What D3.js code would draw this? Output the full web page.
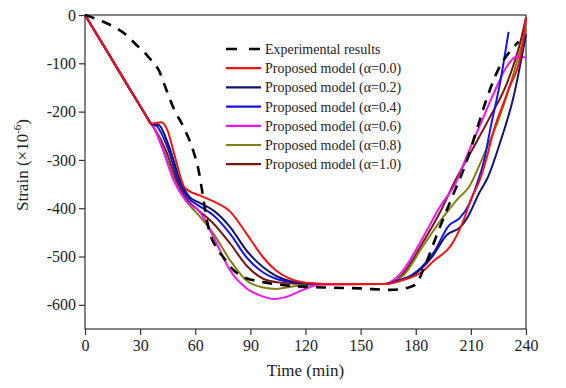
<!DOCTYPE html>
<html>
<head>
<meta charset="utf-8">
<script src="https://cdn.jsdelivr.net/npm/d3@7"></script>
<style>
  html, body { margin: 0; padding: 0; background: #fff; }
  svg { display: block; font-family: "Liberation Serif", "Times New Roman", serif; }
</style>
</head>
<body>
<div id="chart"></div>
<script>
"use strict";

// Time (min), strain (x10^-6) pairs
const experimental = [[0,0],[4,-5],[10,-14],[15,-23],[22,-40],[28,-62],[32,-76],[35,-89],[38,-102],[40,-113],[44,-152],[48,-191],[54,-235],[59,-282],[62,-325],[64,-370],[66,-418],[68,-452],[71,-478],[76,-505],[80,-525],[86,-542],[97,-553],[110,-560],[130,-564],[150,-566],[166,-569],[175,-565],[180,-558],[184,-528],[192,-450],[200,-375],[207,-310],[213,-240],[218,-180],[225,-112],[232,-72],[236,-55]];

const alpha00 = [[0,0],[12,-75],[24,-151],[33,-207],[36,-225],[41.5,-222],[45,-240],[48,-280],[54,-356],[57,-365],[62,-373],[70,-386],[79,-407],[88,-453],[97,-502],[104,-529],[113,-548],[122,-555],[130,-557],[163,-557],[170,-552],[176,-545],[183,-533],[190,-508],[199,-478],[206,-425],[210,-382],[215,-340],[219,-290],[222,-245],[230,-159],[238,-65],[240,-5]];
const alpha02 = [[0,0],[12,-75],[24,-151],[33,-207],[36,-225],[40,-227],[46,-275],[52,-345],[57,-377],[62,-388],[70,-405],[79,-439],[88,-488],[97,-522],[104,-540],[113,-552],[122,-556],[130,-557],[163,-557],[170,-551],[178,-540],[189,-500],[197,-455],[204,-440],[208,-420],[215,-365],[219,-338],[226,-263],[233,-173],[240,-40]];
const alpha04 = [[0,0],[12,-75],[24,-151],[33,-207],[36,-225],[39,-230],[45,-275],[51,-345],[56,-378],[62,-395],[70,-415],[79,-453],[88,-502],[97,-533],[104,-546],[113,-553],[130,-557],[163,-557],[170,-550],[178,-538],[190,-490],[198,-436],[204,-420],[209,-392],[213,-353],[217,-304],[221,-228],[226,-138],[230.5,-35]];
const alpha06 = [[0,0],[12,-75],[24,-151],[33,-207],[36,-225],[37.5,-234],[42,-275],[48,-340],[55,-385],[62.6,-408],[70,-460],[79,-529],[88,-566],[97,-583],[103,-588],[110,-583],[118,-570],[128,-558],[163,-557],[171.5,-536],[184,-460],[193,-398],[202,-346],[208,-290],[215,-228],[222,-166],[230,-104],[235,-86],[240,-88]];
const alpha08 = [[0,0],[12,-75],[24,-151],[33,-207],[36,-225],[37.5,-233],[43,-280],[49,-345],[55,-385],[62,-415],[70,-453],[79,-508],[88,-550],[97,-564],[104,-567],[113,-562],[125,-558],[163,-557],[173,-540],[184,-478],[195,-418],[203,-380],[209,-356],[217,-290],[226,-207],[233,-124],[240,-30]];
const alpha10 = [[0,0],[12,-75],[24,-151],[33,-207],[36,-225],[38,-236],[44,-280],[50,-345],[55,-380],[62,-405],[70,-432],[79,-473],[88,-519],[97,-546],[106,-554],[120,-557],[163,-557],[172,-540],[184,-470],[193,-410],[202,-339],[211,-277],[220,-214],[230,-138],[237,-55],[240,-5]];

const seriesNames = ["Experimental results", "Proposed model (\u03b1=0.0)", "Proposed model (\u03b1=0.2)", "Proposed model (\u03b1=0.4)", "Proposed model (\u03b1=0.6)", "Proposed model (\u03b1=0.8)", "Proposed model (\u03b1=1.0)"];
const seriesData = [experimental, alpha00, alpha02, alpha04, alpha06, alpha08, alpha10];
const seriesColors = ["#000000", "#f01414", "#14146e", "#1414e6", "#f014f0", "#808014", "#781414"];

const xTicks = [0, 30, 60, 90, 120, 150, 180, 210, 240];
const yTicks = [0, -100, -200, -300, -400, -500, -600];

const W = 566, H = 388;
const margin = { left: 85, right: 40, top: 15, bottom: 59 };

const svg = d3.select("#chart").append("svg").attr("width", W).attr("height", H);

const x = d3.scaleLinear().domain([0, 240]).range([margin.left, W - margin.right]);
const y = d3.scaleLinear().domain([-650, 0]).range([H - margin.bottom, margin.top]);

// Frame
svg.append("rect")
  .attr("x", x(0)).attr("y", y(0))
  .attr("width", x(240) - x(0)).attr("height", y(-650) - y(0))
  .attr("fill", "none").attr("stroke", "#333").attr("stroke-width", 1.2);

// X axis
const xAxis = svg.append("g").attr("transform", `translate(0,${y(-650)})`);
xAxis.call(d3.axisBottom(x).tickValues(d3.range(0, 241, 15)).tickSize(4).tickFormat(""));
xAxis.call(d3.axisBottom(x).tickValues(xTicks).tickSize(6).tickPadding(5).tickFormat(d3.format("d")));
xAxis.selectAll("path.domain").remove();
xAxis.selectAll("line").attr("stroke", "#333").attr("stroke-width", 1.2);
xAxis.selectAll("text").attr("font-size", 16).attr("font-family", "Liberation Serif").attr("fill", "#222");

// Y axis
const yAxis = svg.append("g").attr("transform", `translate(${x(0)},0)`);
yAxis.call(d3.axisLeft(y).tickValues(d3.range(-650, 1, 50)).tickSize(4).tickFormat(""));
yAxis.call(d3.axisLeft(y).tickValues(yTicks).tickSize(6).tickPadding(3).tickFormat((d) => d === 0 ? "0" : "-" + Math.abs(d)));
yAxis.selectAll("path.domain").remove();
yAxis.selectAll("line").attr("stroke", "#333").attr("stroke-width", 1.2);
yAxis.selectAll("text").attr("font-size", 16).attr("font-family", "Liberation Serif").attr("fill", "#222");

// Axis titles
svg.append("text")
  .attr("x", (x(0) + x(240)) / 2).attr("y", 376)
  .attr("text-anchor", "middle").attr("font-size", 17).attr("fill", "#222")
  .text("Time (min)");

const yTitle = svg.append("text")
  .attr("transform", "translate(28,165) rotate(-90)")
  .attr("text-anchor", "middle").attr("font-size", 17).attr("fill", "#222");
yTitle.append("tspan").text("Strain (\u00d710");
yTitle.append("tspan").attr("font-size", 11).attr("dy", -7).text("-6");
yTitle.append("tspan").attr("dy", 7).text(")");

// Curves
const line = d3.line()
  .x((d) => x(d[0]))
  .y((d) => y(d[1]))
  .curve(d3.curveMonotoneX);

const plot = svg.append("g");
// models drawn in reverse so alpha=0.0 sits on top, experimental last
[6, 5, 4, 3, 2, 1, 0].forEach((i) => {
  plot.append("path")
    .datum(seriesData[i])
    .attr("d", line)
    .attr("fill", "none")
    .attr("stroke", seriesColors[i])
    .attr("stroke-width", i === 0 ? 2.6 : 2)
    .attr("stroke-dasharray", i === 0 ? "10,8" : null)
    .attr("stroke-linejoin", "round");
});

// Legend
const legend = svg.append("g");
seriesNames.forEach((name, i) => {
  const ly = 49 + i * 19.2;
  legend.append("line")
    .attr("x1", 226).attr("x2", 261)
    .attr("y1", ly).attr("y2", ly)
    .attr("stroke", seriesColors[i])
    .attr("stroke-width", i === 0 ? 2.6 : 2.2)
    .attr("stroke-dasharray", i === 0 ? "11,12" : null);
  legend.append("text")
    .attr("x", 265).attr("y", ly + 5)
    .attr("font-size", 14).attr("fill", "#222")
    .text(name);
});
</script>
</body>
</html>
